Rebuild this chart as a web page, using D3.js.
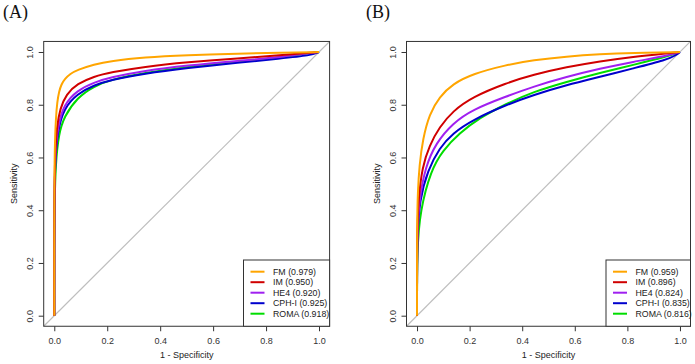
<!DOCTYPE html>
<html>
<head>
<meta charset="utf-8">
<script src="https://cdn.jsdelivr.net/npm/d3@7"></script>
<style>
  html, body { margin: 0; padding: 0; background: #fff; }
  svg { display: block; }
  text { font-family: "Liberation Sans", Arial, sans-serif; }
</style>
</head>
<body>
<svg id="chart" width="695" height="364"></svg>
<script>
// ---------- DATA ----------
const seriesNames = ["FM", "IM", "HE4", "CPH-I", "ROMA"];
const seriesColors = ["#FFA500", "#D00000", "#A020F0", "#0000CD", "#00DD00"];
const aucA = ["0.979", "0.950", "0.920", "0.925", "0.918"];
const aucB = ["0.959", "0.896", "0.824", "0.835", "0.816"];
const tickValues = [0, 0.2, 0.4, 0.6, 0.8, 1.0];
const tickLabels = ["0.0", "0.2", "0.4", "0.6", "0.8", "1.0"];

// Panel A ROC points [1 - specificity, sensitivity]
const fmA = [[0,0],[0,0.5],[0.002,0.65],[0.006,0.75],[0.011,0.81],[0.018,0.85],[0.027,0.878],[0.04,0.898],[0.06,0.917],[0.087,0.932],[0.15,0.953],[0.213,0.966],[0.339,0.98],[0.5,0.988],[0.7,0.994],[0.85,0.997],[1,1]];
const imA = [[0,0],[0,0.45],[0.003,0.62],[0.01,0.72],[0.022,0.785],[0.045,0.84],[0.087,0.88],[0.15,0.907],[0.213,0.923],[0.339,0.944],[0.5,0.961],[0.7,0.976],[0.85,0.988],[1,1]];
const he4A = [[0,0],[0,0.45],[0.004,0.62],[0.013,0.715],[0.035,0.8],[0.087,0.855],[0.15,0.885],[0.213,0.904],[0.339,0.929],[0.5,0.949],[0.7,0.967],[0.85,0.98],[1,1]];
const cphA = [[0,0],[0,0.45],[0.004,0.6],[0.013,0.70],[0.035,0.785],[0.087,0.842],[0.15,0.874],[0.213,0.894],[0.339,0.918],[0.5,0.939],[0.7,0.96],[0.85,0.975],[0.97,0.987],[1,1]];
const romaA = [[0,0],[0,0.4],[0.005,0.58],[0.017,0.69],[0.037,0.755],[0.087,0.828],[0.15,0.87],[0.213,0.895],[0.339,0.921],[0.5,0.944],[0.7,0.964],[0.85,0.978],[1,1]];

// Panel B ROC points
const fmB = [[0,0],[0,0.35],[0.003,0.47],[0.009,0.57],[0.022,0.67],[0.047,0.765],[0.085,0.83],[0.136,0.879],[0.212,0.917],[0.338,0.951],[0.442,0.969],[0.569,0.983],[0.696,0.992],[0.82,0.997],[1,1]];
const imB = [[0,0],[0,0.3],[0.005,0.44],[0.02,0.565],[0.047,0.645],[0.085,0.715],[0.136,0.776],[0.212,0.83],[0.338,0.882],[0.442,0.914],[0.569,0.943],[0.696,0.965],[0.822,0.982],[0.949,0.995],[1,1]];
const he4B = [[0,0],[0,0.3],[0.008,0.44],[0.032,0.565],[0.072,0.655],[0.136,0.73],[0.212,0.782],[0.338,0.831],[0.442,0.869],[0.569,0.906],[0.696,0.937],[0.822,0.963],[0.949,0.985],[1,1]];
const cphB = [[0,0],[0,0.3],[0.01,0.44],[0.041,0.552],[0.085,0.636],[0.136,0.692],[0.212,0.743],[0.338,0.799],[0.442,0.837],[0.569,0.875],[0.696,0.906],[0.822,0.938],[0.949,0.97],[0.987,0.989],[1,1]];
const romaB = [[0,0],[0,0.25],[0.012,0.40],[0.053,0.552],[0.098,0.627],[0.161,0.692],[0.237,0.75],[0.338,0.803],[0.442,0.849],[0.569,0.887],[0.696,0.921],[0.822,0.951],[0.949,0.982],[1,1]];

const panelTitles = ["(A)", "(B)"];
const xTitle = "1 - Specificity";
const yTitle = "Sensitivity";

// ---------- DRAW ----------
const svg = d3.select("#chart");

const panels = [
  { title: panelTitles[0], titleX: 3, series: [fmA, imA, he4A, cphA, romaA], auc: aucA,
    xr: [43.7, 329.6], yTitleX: 17, legendX: 243.5 },
  { title: panelTitles[1], titleX: 366, series: [fmB, imB, he4B, cphB, romaB], auc: aucB,
    xr: [406.5, 690.5], yTitleX: 380, legendX: 606 }
];
const yr = [326.25, 41.45];

panels.forEach(p => {
  const x = d3.scaleLinear().domain([-0.04, 1.04]).range(p.xr);
  const y = d3.scaleLinear().domain([-0.04, 1.04]).range(yr);
  const g = svg.append("g");

  // panel title
  g.append("text").attr("x", p.titleX).attr("y", 17.5)
    .style("font-family", "'Liberation Serif', 'Times New Roman', serif")
    .style("font-size", "18px").attr("fill", "#111").text(p.title);

  // clip
  const cid = "clip" + p.title.replace(/\W/g, "");
  svg.append("clipPath").attr("id", cid).append("rect")
    .attr("x", p.xr[0]).attr("y", yr[1]).attr("width", p.xr[1] - p.xr[0]).attr("height", yr[0] - yr[1]);

  const plot = g.append("g").attr("clip-path", `url(#${cid})`);

  // diagonal reference
  plot.append("line")
    .attr("x1", x(-0.04)).attr("y1", y(-0.04)).attr("x2", x(1.04)).attr("y2", y(1.04))
    .attr("stroke", "#BEBEBE").attr("stroke-width", 1.2);

  const line = d3.line().x(d => x(d[0])).y(d => y(d[1])).curve(d3.curveBasis);

  // draw in reverse so FM on top
  for (let i = p.series.length - 1; i >= 0; i--) {
    plot.append("path").datum(p.series[i])
      .attr("d", line).attr("fill", "none")
      .attr("stroke", seriesColors[i]).attr("stroke-width", 2)
      .attr("stroke-linejoin", "round");
  }

  // axes
  const xAxis = d3.axisBottom(x).tickValues(tickValues).tickFormat((d, i) => tickLabels[i])
    .tickSize(5).tickPadding(6.5).tickSizeOuter(0);
  const gx = g.append("g").attr("transform", `translate(0,${yr[0]})`).call(xAxis);
  gx.select(".domain").remove();
  gx.selectAll("line").attr("stroke", "#333");
  gx.selectAll("text").style("font-size", "9px").attr("fill", "#333")
    .style("font-family", "'Liberation Sans', Arial, sans-serif");

  const yAxis = d3.axisLeft(y).tickValues(tickValues).tickFormat((d, i) => tickLabels[i])
    .tickSize(5).tickSizeOuter(0);
  const gy = g.append("g").attr("transform", `translate(${p.xr[0]},0)`).call(yAxis);
  gy.select(".domain").remove();
  gy.selectAll("line").attr("stroke", "#333");
  gy.selectAll("text")
    .attr("x", null).attr("dy", null)
    .attr("transform", "translate(-10.4,0) rotate(-90)")
    .attr("text-anchor", "middle")
    .style("font-size", "9px").attr("fill", "#333")
    .style("font-family", "'Liberation Sans', Arial, sans-serif");

  // box
  g.append("rect").attr("x", p.xr[0]).attr("y", yr[1])
    .attr("width", p.xr[1] - p.xr[0]).attr("height", yr[0] - yr[1])
    .attr("fill", "none").attr("stroke", "#333").attr("stroke-width", 1);

  // axis titles
  g.append("text").attr("x", x(0.5)).attr("y", 358).attr("text-anchor", "middle")
    .style("font-size", "9px").attr("fill", "#222").text(xTitle);
  g.append("text").attr("transform", `translate(${p.yTitleX},${y(0.5)}) rotate(-90)`)
    .attr("text-anchor", "middle").style("font-size", "9px").attr("fill", "#222").text(yTitle);

  // legend
  const lx = p.legendX, ly = 260;
  g.append("rect").attr("x", lx).attr("y", ly).attr("width", p.xr[1] - lx).attr("height", yr[0] - ly)
    .attr("fill", "#fff").attr("stroke", "#333").attr("stroke-width", 1);
  seriesNames.forEach((name, i) => {
    const yy = ly + 11.7 + i * 10.5;
    g.append("line").attr("x1", lx + 7).attr("x2", lx + 21).attr("y1", yy).attr("y2", yy)
      .attr("stroke", seriesColors[i]).attr("stroke-width", 2);
    g.append("text").attr("x", lx + 29.5).attr("y", yy).attr("dy", "0.35em")
      .style("font-size", "8.8px").attr("fill", "#222")
      .text(`${name} (${p.auc[i]})`);
  });
});
</script>
</body>
</html>
